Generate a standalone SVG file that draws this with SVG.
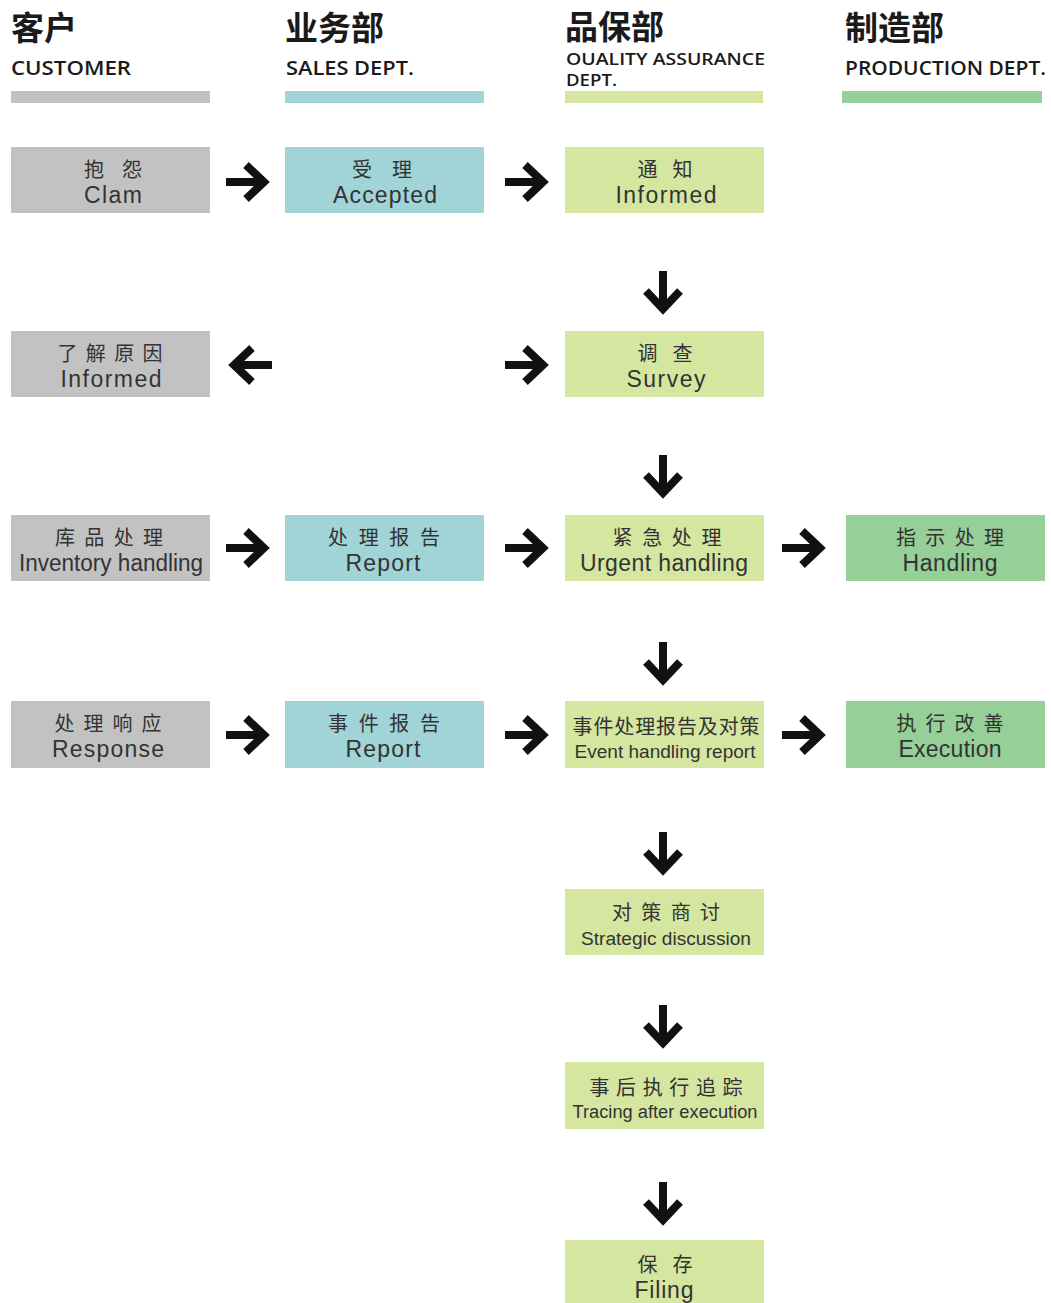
<svg xmlns="http://www.w3.org/2000/svg" xmlns:xlink="http://www.w3.org/1999/xlink" width="1051" height="1303" viewBox="0 0 1051 1303">
<style>
.cust{fill:#c2c2c2}.sales{fill:#a0d4d7}.qa{fill:#d5e6a0}.prod{fill:#96cf97}
.hz{font-family:"Noto Sans CJK SC",sans-serif;font-weight:bold;font-size:33px;fill:#1a1a1a}
.he{font-family:"Open Sans",sans-serif;font-weight:600;font-size:19px;fill:#1a1a1a}
.heq{font-family:"Open Sans",sans-serif;font-weight:600;font-size:16px;fill:#1a1a1a}
.zh{font-family:"Noto Sans CJK SC",sans-serif;font-size:20px;fill:#333;text-anchor:middle}
.en{font-family:"Liberation Sans",sans-serif;font-size:23px;fill:#333;text-anchor:middle}
.ens{font-family:"Liberation Sans",sans-serif;font-size:18px;fill:#333;text-anchor:middle}
.arr{fill:none;stroke:#111;stroke-width:8}
</style>
<defs>
<g id="arr"><path class="arr" d="M-23,0 H13"/><path class="arr" d="M-3,-17 L15,0 L-3,17" stroke-linejoin="miter"/></g>
</defs>
<rect width="1051" height="1303" fill="#fff"/>
<g id="headers">
<g id="h-customer"><text class="hz" x="11" y="40">客户</text><text class="he" x="11" y="75" textLength="120" lengthAdjust="spacingAndGlyphs">CUSTOMER</text><rect class="cust" x="11" y="91" width="199" height="12"/></g>
<g id="h-sales"><text class="hz" x="285" y="40">业务部</text><text class="he" x="286" y="75" textLength="128" lengthAdjust="spacingAndGlyphs">SALES DEPT.</text><rect class="sales" x="285" y="91" width="199" height="12"/></g>
<g id="h-qa"><text class="hz" x="565" y="39">品保部</text><text class="heq" x="566" y="65" textLength="199" lengthAdjust="spacingAndGlyphs">OUALITY ASSURANCE</text><text class="heq" x="566" y="86" textLength="51" lengthAdjust="spacingAndGlyphs">DEPT.</text><rect class="qa" x="565" y="91" width="198" height="12"/></g>
<g id="h-prod"><text class="hz" x="845" y="40">制造部</text><text class="he" x="845" y="75" textLength="201" lengthAdjust="spacingAndGlyphs">PRODUCTION  DEPT.</text><rect class="prod" x="842" y="91" width="200" height="12"/></g>
</g>
<g id="connectors">
<use href="#arr" transform="translate(249,182)"/>
<use href="#arr" transform="translate(528,182)"/>
<use href="#arr" transform="translate(663,294) rotate(90)"/>
<use href="#arr" transform="translate(249,365) rotate(180)"/>
<use href="#arr" transform="translate(528,365)"/>
<use href="#arr" transform="translate(663,478) rotate(90)"/>
<use href="#arr" transform="translate(249,548)"/>
<use href="#arr" transform="translate(528,548)"/>
<use href="#arr" transform="translate(805,548)"/>
<use href="#arr" transform="translate(663,665) rotate(90)"/>
<use href="#arr" transform="translate(249,735)"/>
<use href="#arr" transform="translate(528,735)"/>
<use href="#arr" transform="translate(805,735)"/>
<use href="#arr" transform="translate(663,855) rotate(90)"/>
<use href="#arr" transform="translate(663,1028) rotate(90)"/>
<use href="#arr" transform="translate(663,1205) rotate(90)"/>
</g>
<g id="n-clam"><rect class="cust" x="11" y="147" width="199" height="66"/><text class="zh" x="113" y="177" textLength="58" lengthAdjust="spacing">抱怨</text><text class="en" x="113" y="203" textLength="58" lengthAdjust="spacing">Clam</text></g>
<g id="n-accepted"><rect class="sales" x="285" y="147" width="199" height="66"/><text class="zh" x="382" y="177" textLength="60" lengthAdjust="spacing">受理</text><text class="en" x="385" y="203" textLength="104" lengthAdjust="spacing">Accepted</text></g>
<g id="n-informed"><rect class="qa" x="565" y="147" width="199" height="66"/><text class="zh" x="665" y="177" textLength="55" lengthAdjust="spacing">通知</text><text class="en" x="666" y="203" textLength="101" lengthAdjust="spacing">Informed</text></g>
<g id="n-reason"><rect class="cust" x="11" y="331" width="199" height="66"/><text class="zh" x="110" y="361" textLength="105" lengthAdjust="spacing">了解原因</text><text class="en" x="111" y="387" textLength="101" lengthAdjust="spacing">Informed</text></g>
<g id="n-survey"><rect class="qa" x="565" y="331" width="199" height="66"/><text class="zh" x="665" y="361" textLength="55" lengthAdjust="spacing">调查</text><text class="en" x="666" y="387" textLength="79" lengthAdjust="spacing">Survey</text></g>
<g id="n-inventory"><rect class="cust" x="11" y="515" width="199" height="66"/><text class="zh" x="109" y="545" textLength="108" lengthAdjust="spacing">库品处理</text><text class="en" x="111" y="571" textLength="184" lengthAdjust="spacingAndGlyphs">Inventory handling</text></g>
<g id="n-report1"><rect class="sales" x="285" y="515" width="199" height="66"/><text class="zh" x="384" y="545" textLength="112" lengthAdjust="spacing">处理报告</text><text class="en" x="383" y="571" textLength="75" lengthAdjust="spacing">Report</text></g>
<g id="n-urgent"><rect class="qa" x="565" y="515" width="199" height="66"/><text class="zh" x="667" y="545" textLength="109" lengthAdjust="spacing">紧急处理</text><text class="en" x="664" y="571" textLength="168" lengthAdjust="spacing">Urgent handling</text></g>
<g id="n-handling"><rect class="prod" x="846" y="515" width="199" height="66"/><text class="zh" x="950" y="545" textLength="108" lengthAdjust="spacing">指示处理</text><text class="en" x="950" y="571" textLength="95" lengthAdjust="spacing">Handling</text></g>
<g id="n-response"><rect class="cust" x="11" y="701" width="199" height="67"/><text class="zh" x="108" y="731" textLength="107" lengthAdjust="spacing">处理响应</text><text class="en" x="108" y="757" textLength="112" lengthAdjust="spacing">Response</text></g>
<g id="n-report2"><rect class="sales" x="285" y="701" width="199" height="67"/><text class="zh" x="384" y="731" textLength="112" lengthAdjust="spacing">事件报告</text><text class="en" x="383" y="757" textLength="75" lengthAdjust="spacing">Report</text></g>
<g id="n-event"><rect class="qa" x="565" y="701" width="199" height="67"/><text class="zh" x="666" y="734" font-size="21" textLength="187" lengthAdjust="spacing">事件处理报告及对策</text><text class="ens" x="665" y="758" textLength="181" lengthAdjust="spacingAndGlyphs">Event handling report</text></g>
<g id="n-execution"><rect class="prod" x="846" y="701" width="199" height="67"/><text class="zh" x="950" y="731" textLength="107" lengthAdjust="spacing">执行改善</text><text class="en" x="950" y="757" textLength="103" lengthAdjust="spacing">Execution</text></g>
<g id="n-strategic"><rect class="qa" x="565" y="889" width="199" height="66"/><text class="zh" x="666" y="920" textLength="108" lengthAdjust="spacing">对策商讨</text><text class="ens" x="666" y="945" textLength="170" lengthAdjust="spacingAndGlyphs">Strategic discussion</text></g>
<g id="n-tracing"><rect class="qa" x="565" y="1062" width="199" height="67"/><text class="zh" x="666" y="1095" font-size="21" textLength="153" lengthAdjust="spacing">事后执行追踪</text><text class="ens" x="665" y="1118" textLength="185" lengthAdjust="spacingAndGlyphs">Tracing after execution</text></g>
<g id="n-filing"><rect class="qa" x="565" y="1240" width="199" height="63"/><text class="zh" x="665" y="1272" textLength="55" lengthAdjust="spacing">保存</text><text class="en" x="664" y="1298" textLength="59" lengthAdjust="spacing">Filing</text></g>
</svg>
